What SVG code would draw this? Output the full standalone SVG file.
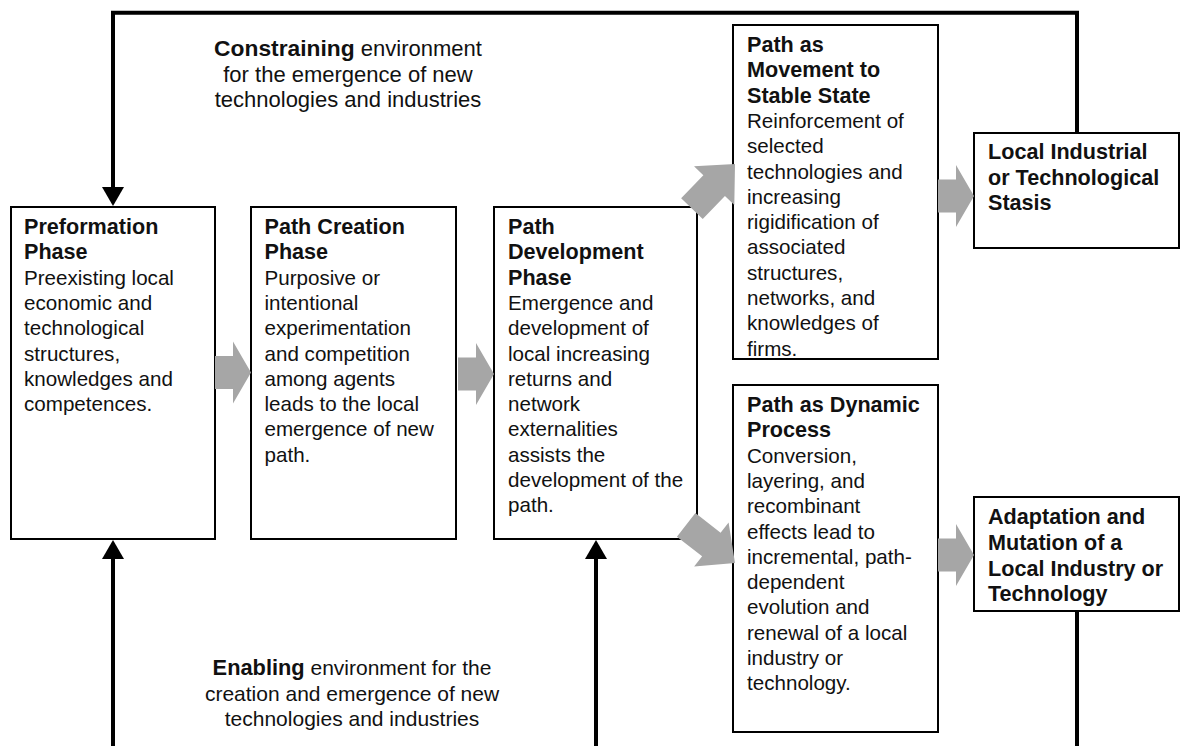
<svg xmlns="http://www.w3.org/2000/svg" width="1180" height="746" viewBox="0 0 1180 746">
  <style>
    .box { fill: #ffffff; stroke: #000000; stroke-width: 2; }
    .txt { font-family: "Liberation Sans", Arial, sans-serif; font-size: 20.6px; fill: #111111; }
    .ttl { font-weight: bold; font-size: 21.6px; }
    .lbl { font-family: "Liberation Sans", Arial, sans-serif; font-size: 21px; fill: #111111; text-anchor: middle; }
    .lbl .b { font-weight: bold; font-size: 21.8px; }
    .lbl.top { font-size: 22px; }
    .lbl.top .b { font-size: 22.8px; }
    .wire { fill: none; stroke: #000000; stroke-width: 4; stroke-linejoin: miter; }
    .block { fill: #a6a6a6; stroke: none; }
  </style>
  <defs>
    <marker id="head" viewBox="0 0 19 22" refX="0" refY="11" markerWidth="19" markerHeight="22" markerUnits="userSpaceOnUse" orient="auto">
      <path d="M0,0 L19,11 L0,22 Z" fill="#000000"/>
    </marker>
    <!-- grey block arrows, tip at origin, pointing along +x -->
    <polygon id="blockH" points="-36,-16.5 -18,-16.5 -18,-31 0,0 -18,31 -18,16.5 -36,16.5"/>
    <polygon id="blockD" points="-62,-15 -30,-15 -30,-28 0,0 -30,28 -30,15 -62,15"/>
  </defs>

  <!-- phase boxes -->
  <g id="preformation">
    <rect class="box" x="11" y="207" width="204" height="332"/>
    <text class="txt" x="24" y="234">
      <tspan class="ttl" x="24" y="234">Preformation</tspan>
      <tspan class="ttl" x="24" dy="25.3">Phase</tspan>
      <tspan x="24" dy="25.3">Preexisting local</tspan>
      <tspan x="24" dy="25.3">economic and</tspan>
      <tspan x="24" dy="25.3">technological</tspan>
      <tspan x="24" dy="25.3">structures,</tspan>
      <tspan x="24" dy="25.3">knowledges and</tspan>
      <tspan x="24" dy="25.3">competences.</tspan>
    </text>
  </g>

  <g id="path-creation">
    <rect class="box" x="251" y="207" width="205" height="332"/>
    <text class="txt" x="264.5" y="234">
      <tspan class="ttl" x="264.5" y="234">Path Creation</tspan>
      <tspan class="ttl" x="264.5" dy="25.3">Phase</tspan>
      <tspan x="264.5" dy="25.3">Purposive or</tspan>
      <tspan x="264.5" dy="25.3">intentional</tspan>
      <tspan x="264.5" dy="25.3">experimentation</tspan>
      <tspan x="264.5" dy="25.3">and competition</tspan>
      <tspan x="264.5" dy="25.3">among agents</tspan>
      <tspan x="264.5" dy="25.3">leads to the local</tspan>
      <tspan x="264.5" dy="25.3">emergence of new</tspan>
      <tspan x="264.5" dy="25.3">path.</tspan>
    </text>
  </g>

  <g id="path-development">
    <rect class="box" x="494" y="207" width="203" height="332"/>
    <text class="txt" x="508" y="234">
      <tspan class="ttl" x="508" y="234">Path</tspan>
      <tspan class="ttl" x="508" dy="25.3">Development</tspan>
      <tspan class="ttl" x="508" dy="25.3">Phase</tspan>
      <tspan x="508" dy="25.3">Emergence and</tspan>
      <tspan x="508" dy="25.3">development of</tspan>
      <tspan x="508" dy="25.3">local increasing</tspan>
      <tspan x="508" dy="25.3">returns and</tspan>
      <tspan x="508" dy="25.3">network</tspan>
      <tspan x="508" dy="25.3">externalities</tspan>
      <tspan x="508" dy="25.3">assists the</tspan>
      <tspan x="508" dy="25.3">development of the</tspan>
      <tspan x="508" dy="25.3">path.</tspan>
    </text>
  </g>

  <g id="stable-state">
    <rect class="box" x="733" y="25" width="205" height="334"/>
    <text class="txt" x="747" y="52">
      <tspan class="ttl" x="747" y="52">Path as</tspan>
      <tspan class="ttl" x="747" dy="25.3">Movement to</tspan>
      <tspan class="ttl" x="747" dy="25.3">Stable State</tspan>
      <tspan x="747" dy="25.3">Reinforcement of</tspan>
      <tspan x="747" dy="25.3">selected</tspan>
      <tspan x="747" dy="25.3">technologies and</tspan>
      <tspan x="747" dy="25.3">increasing</tspan>
      <tspan x="747" dy="25.3">rigidification of</tspan>
      <tspan x="747" dy="25.3">associated</tspan>
      <tspan x="747" dy="25.3">structures,</tspan>
      <tspan x="747" dy="25.3">networks, and</tspan>
      <tspan x="747" dy="25.3">knowledges of</tspan>
      <tspan x="747" dy="25.3">firms.</tspan>
    </text>
  </g>

  <g id="stasis">
    <rect class="box" x="974" y="133" width="205" height="115"/>
    <text class="txt ttl" x="988" y="159">
      <tspan x="988" y="159">Local Industrial</tspan>
      <tspan x="988" dy="25.5">or Technological</tspan>
      <tspan x="988" dy="25.5">Stasis</tspan>
    </text>
  </g>

  <g id="dynamic-process">
    <rect class="box" x="733" y="385" width="205" height="347"/>
    <text class="txt" x="747" y="412">
      <tspan class="ttl" x="747" y="412">Path as Dynamic</tspan>
      <tspan class="ttl" x="747" dy="25.3">Process</tspan>
      <tspan x="747" dy="25.3">Conversion,</tspan>
      <tspan x="747" dy="25.3">layering, and</tspan>
      <tspan x="747" dy="25.3">recombinant</tspan>
      <tspan x="747" dy="25.3">effects lead to</tspan>
      <tspan x="747" dy="25.3">incremental, path-</tspan>
      <tspan x="747" dy="25.3">dependent</tspan>
      <tspan x="747" dy="25.3">evolution and</tspan>
      <tspan x="747" dy="25.3">renewal of a local</tspan>
      <tspan x="747" dy="25.3">industry or</tspan>
      <tspan x="747" dy="25.3">technology.</tspan>
    </text>
  </g>

  <g id="adaptation">
    <rect class="box" x="974" y="497" width="205" height="114"/>
    <text class="txt ttl" x="988" y="524">
      <tspan x="988" y="524">Adaptation and</tspan>
      <tspan x="988" dy="25.8">Mutation of a</tspan>
      <tspan x="988" dy="25.8">Local Industry or</tspan>
      <tspan x="988" dy="25.8">Technology</tspan>
    </text>
  </g>

  <!-- environment labels -->
  <g id="constraining-label">
    <text class="lbl top" x="348" y="56"><tspan class="b">Constraining</tspan> environment</text>
    <text class="lbl top" x="348" y="81.5">for the emergence of new</text>
    <text class="lbl top" x="348" y="107">technologies and industries</text>
  </g>
  <g id="enabling-label">
    <text class="lbl" x="352" y="675"><tspan class="b">Enabling</tspan> environment for the</text>
    <text class="lbl" x="352" y="700.5">creation and emergence of new</text>
    <text class="lbl" x="352" y="726">technologies and industries</text>
  </g>

  <!-- connectors -->
  <g id="connectors">
    <!-- feedback loops -->
    <path class="wire" d="M1077,133 L1077,12.7 L113,12.7 L113,187" marker-end="url(#head)"/>
    <path class="wire" d="M1077,611 L1077,750"/>
    <path class="wire" d="M113,750 L113,559" marker-end="url(#head)"/>
    <path class="wire" d="M596,750 L596,559" marker-end="url(#head)"/>

    <!-- phase transitions -->
    <use href="#blockH" class="block" transform="translate(251,372.5)"/>
    <use href="#blockH" class="block" transform="translate(494,374)"/>
    <use href="#blockH" class="block" transform="translate(974,196)"/>
    <use href="#blockH" class="block" transform="translate(974,555)"/>
    <use href="#blockD" class="block" transform="translate(735,164) rotate(-46)"/>
    <use href="#blockD" class="block" transform="translate(735,563) rotate(38)"/>
  </g>
</svg>
